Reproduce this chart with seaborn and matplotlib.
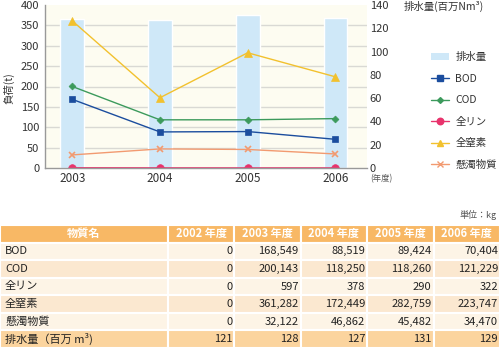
import matplotlib
matplotlib.use("Agg")
import matplotlib.pyplot as plt
import seaborn as sns
import numpy as np
from matplotlib.ticker import MultipleLocator
from matplotlib.patches import Patch
from matplotlib.lines import Line2D

years = ["2003", "2004", "2005", "2006"]
table_years = ["2002 年度", "2003 年度", "2004 年度", "2005 年度", "2006 年度"]
substances = ["BOD", "COD", "全リン", "全窒素", "懸濁物質"]
bod_kg = [0, 168549, 88519, 89424, 70404]
cod_kg = [0, 200143, 118250, 118260, 121229]
tp_kg = [0, 597, 378, 290, 322]
tn_kg = [0, 361282, 172449, 282759, 223747]
ss_kg = [0, 32122, 46862, 45482, 34470]
flow = [121, 128, 127, 131, 129]

sns.set_theme(style="white")
FONT = ["Noto Sans CJK JP", "DejaVu Sans"]
plt.rcParams["font.family"] = FONT

fig = plt.figure(figsize=(5, 3.5), dpi=100)
W, H = 500, 350
ax_bar = fig.add_axes([45 / W, 1 - 168 / H, (367 - 45) / W, (168 - 5) / H])
ax_bar.set_facecolor("#fdfcf1")

sns.barplot(x=years, y=flow[1:], ax=ax_bar, color="#cfe8f8", width=0.27,
            saturation=1, zorder=2)
ax_bar.set_ylim(0, 140)
ax_bar.set_yticks(range(0, 141, 20))
ax_bar.yaxis.set_minor_locator(MultipleLocator(140 / 8))
ax_bar.grid(which="minor", axis="y", color="#d9d9d4", lw=1, zorder=0)
ax_bar.grid(which="major", axis="y", visible=False)
ax_bar.set_axisbelow(True)
ax_bar.set_xlabel("")
ax_bar.set_ylabel("")

ax_line = ax_bar.twinx()
ax_line.yaxis.tick_left()
ax_line.yaxis.set_label_position("left")
ax_bar.yaxis.tick_right()
ax_bar.tick_params(axis="y", which="both", length=0, labelsize=8, colors="#333333", pad=2)
ax_bar.tick_params(axis="x", length=0, labelsize=8.5, colors="#333333", pad=3)

series = {
    "BOD": (bod_kg, "#1b4d9e", "s", 5),
    "COD": (cod_kg, "#3c9a5c", "D", 3.5),
    "全リン": (tp_kg, "#e8336c", "o", 5.5),
    "全窒素": (tn_kg, "#f2c12e", "^", 5.5),
    "懸濁物質": (ss_kg, "#f29a70", "x", 5),
}
xs = np.arange(len(years))
for name, (vals, col, mk, ms) in series.items():
    t = [v / 1000 for v in vals[1:]]
    sns.lineplot(x=xs, y=t, ax=ax_line, color=col, marker=mk, markersize=ms,
                 markeredgecolor=col, markeredgewidth=1.2 if mk == "x" else 0.5,
                 lw=1, legend=False)
ax_line.set_ylim(0, 400)
ax_line.set_yticks(range(0, 401, 50))
ax_line.set_xlim(-0.31, 3.36)
ax_line.tick_params(axis="y", length=0, labelsize=8, colors="#333333", pad=4)
ax_line.set_ylabel("")

for a in (ax_bar, ax_line):
    for s in ("top", "right", "left", "bottom"):
        a.spines[s].set_visible(False)
for s in ("left", "bottom"):
    ax_line.spines[s].set_visible(True)
    ax_line.spines[s].set_color("#999999")
    ax_line.spines[s].set_linewidth(1)

fig.text(9 / W, 1 - 88 / H, "負荷(t)", rotation=90, ha="center", va="center",
         fontsize=7.5, color="#333333", family=FONT)
fig.text(404 / W, 1 - 6 / H, "排水量(百万Nm³)", ha="left", va="center",
         fontsize=7.5, color="#333333", family=FONT)
fig.text(370 / W, 1 - 179 / H, "(年度)", ha="left", va="center",
         fontsize=6, color="#555555", family=FONT)

handles = [Patch(facecolor="#cfe8f8", edgecolor="none", label="排水量")]
for name, (vals, col, mk, ms) in series.items():
    handles.append(Line2D([0], [0], color=col, marker=mk, markersize=ms * 0.85,
                          markeredgecolor=col, lw=1, label=name))
fig.legend(handles=handles, loc="upper left", bbox_to_anchor=(422 / W, 1 - 43 / H),
           frameon=False, labelspacing=1.1, handlelength=1.7,
           handletextpad=0.6, labelcolor="#333333", prop={"family": FONT, "size": 7.5})

# Table
fig.text(497 / W, 1 - 215 / H, "単位：kg", ha="right", va="center",
         fontsize=6.5, color="#555555", family=FONT)
ax_t = fig.add_axes([0, 1 - 348 / H, 1, (348 - 225) / H])
ax_t.axis("off")
rows = [bod_kg, cod_kg, tp_kg, tn_kg, ss_kg]
cell_text = []
for name, vals in zip(substances, rows):
    cell_text.append([name] + [f"{v:,}" for v in vals])
cell_text.append(["排水量（百万 m³)"] + [str(v) for v in flow])
col_labels = ["物質名"] + table_years
colw = [168] + [66.4] * 5
tbl = ax_t.table(cellText=cell_text, colLabels=col_labels, colWidths=[c / 500 for c in colw],
                 bbox=[0, 0, 1, 1], cellLoc="right")
tbl.auto_set_font_size(False)
row_colors = ["#fdf4e6", "#fbe8d0", "#fdf4e6", "#fbe8d0", "#fdf4e6", "#fbd49e"]
for (r, c), cell in tbl.get_celld().items():
    cell.set_edgecolor("white")
    cell.set_linewidth(1.5)
    txt = cell.get_text()
    txt.set_fontfamily(FONT)
    txt.set_fontsize(8)
    txt.set_color("#222222")
    if r == 0:
        cell.set_facecolor("#f8b865")
        txt.set_color("white")
        txt.set_fontweight("bold")
        cell._loc = "center"
        txt.set_ha("center")
    else:
        cell.set_facecolor(row_colors[r - 1])
        if c == 0:
            cell._loc = "left"
            txt.set_ha("left")
    cell.PAD = 0.03

fig.savefig("out.png", dpi=100)
